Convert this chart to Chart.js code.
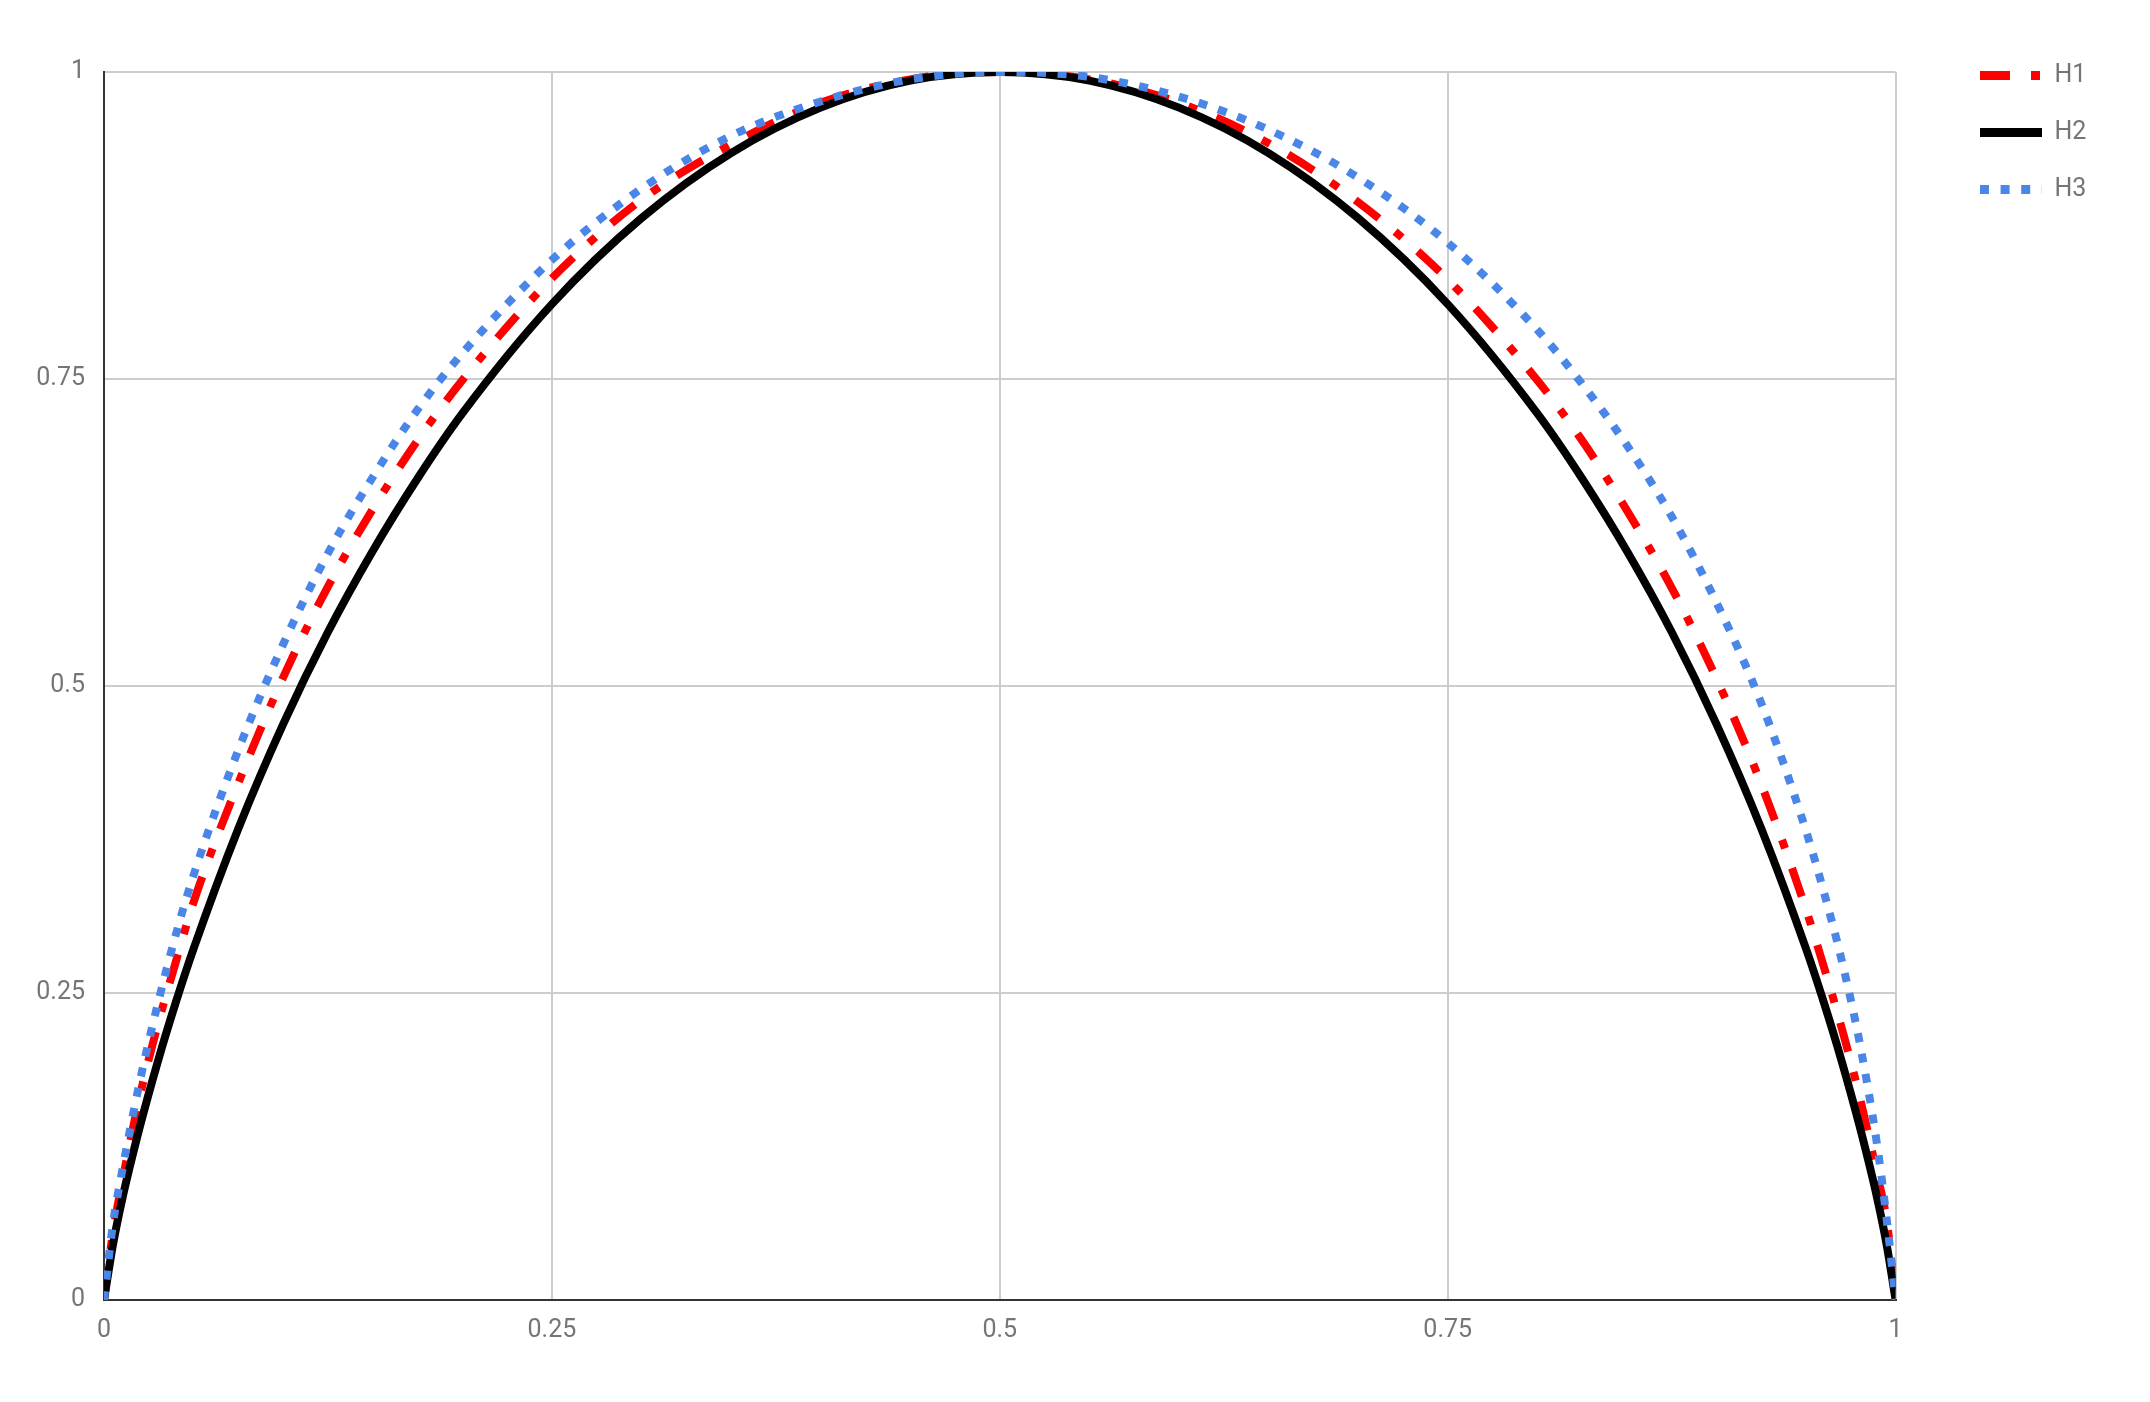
<!DOCTYPE html>
<html>
<head>
<meta charset="utf-8">
<script src="https://cdn.jsdelivr.net/npm/chart.js@4.4.1/dist/chart.umd.min.js"></script>
<style>
  html, body { margin: 0; padding: 0; background: #ffffff; }
  #wrap { width: 2150px; height: 1402px; position: relative; }
</style>
</head>
<body>
<div id="wrap"><canvas id="c" width="2150" height="1402"></canvas></div>
<script>
// ---- data ----
const xValues = [0, 0.005, 0.01, 0.02, 0.03, 0.04, 0.05, 0.075, 0.1, 0.125, 0.15, 0.175, 0.2, 0.25, 0.3, 0.35, 0.4, 0.45, 0.5,
                 0.55, 0.6, 0.65, 0.7, 0.75, 0.8, 0.825, 0.85, 0.875, 0.9, 0.925, 0.95, 0.96, 0.97, 0.98, 0.99, 0.995, 1];
const h1Values = [0, 0.055, 0.095, 0.166, 0.224, 0.275, 0.324, 0.421, 0.507, 0.581, 0.644, 0.700, 0.749, 0.832, 0.896, 0.941, 0.975, 0.994, 1,
                  0.994, 0.975, 0.942, 0.894, 0.831, 0.749, 0.700, 0.643, 0.580, 0.506, 0.420, 0.318, 0.271, 0.221, 0.165, 0.100, 0.065, 0];
const h2Values = [0, 0.045, 0.081, 0.141, 0.194, 0.242, 0.286, 0.384, 0.469, 0.544, 0.610, 0.669, 0.722, 0.811, 0.881, 0.934, 0.971, 0.993, 1,
                  0.993, 0.971, 0.934, 0.881, 0.811, 0.722, 0.669, 0.610, 0.544, 0.469, 0.384, 0.286, 0.242, 0.194, 0.141, 0.081, 0.045, 0];
const h3Values = [0, 0.062, 0.104, 0.178, 0.241, 0.297, 0.346, 0.448, 0.534, 0.608, 0.670, 0.725, 0.771, 0.847, 0.905, 0.948, 0.976, 0.994, 1,
                  0.996, 0.980, 0.953, 0.914, 0.861, 0.790, 0.746, 0.696, 0.638, 0.568, 0.486, 0.382, 0.332, 0.276, 0.209, 0.123, 0.066, 0];
const seriesNames = ['H1', 'H2', 'H3'];
const xTickValues = [0, 0.25, 0.5, 0.75, 1];
const xTickLabels = ['0', '0.25', '0.5', '0.75', '1'];
const yTickValues = [0, 0.25, 0.5, 0.75, 1];
const yTickLabels = ['0', '0.25', '0.5', '0.75', '1'];

const toPoints = ys => xValues.map((x, i) => ({ x: x, y: ys[i] }));

Chart.defaults.font.family = 'Roboto, "Noto Sans", sans-serif';
Chart.defaults.font.size = 25;
Chart.defaults.color = '#757575';

const legendPlace = {
  id: 'legendPlace',
  afterLayout(chart) {
    const lg = chart.legend;
    if (!lg) return;
    const pad = lg.options.labels.padding;
    const dx = 1980 - pad - lg.left;
    const dy = 72 - 9 - pad - lg.top;
    lg.left += dx; lg.right += dx;
    lg.top += dy; lg.bottom += dy;
  }
};

new Chart(document.getElementById('c'), {
  type: 'scatter',
  data: {
    datasets: [
      { label: seriesNames[0], data: toPoints(h1Values), showLine: true, borderColor: '#ff0000', backgroundColor: '#ff0000',
        borderWidth: 8, borderDash: [30, 21, 9, 21], borderCapStyle: 'butt', pointRadius: 0, pointHoverRadius: 0,
        cubicInterpolationMode: 'monotone', order: 3 },
      { label: seriesNames[1], data: toPoints(h2Values), showLine: true, borderColor: '#000000', backgroundColor: '#000000',
        borderWidth: 8, borderCapStyle: 'butt', pointRadius: 0, pointHoverRadius: 0,
        cubicInterpolationMode: 'monotone', order: 2 },
      { label: seriesNames[2], data: toPoints(h3Values), showLine: true, borderColor: '#4a86e8', backgroundColor: '#4a86e8',
        borderWidth: 8, borderDash: [9, 11.6], borderCapStyle: 'butt', pointRadius: 0, pointHoverRadius: 0,
        cubicInterpolationMode: 'monotone', order: 1 }
    ]
  },
  options: {
    responsive: false,
    animation: false,
    devicePixelRatio: 1,
    layout: { padding: { left: 0, top: 72, right: 106, bottom: 40 } },
    plugins: {
      tooltip: { enabled: false },
      title: { display: false },
      legend: {
        display: true,
        position: 'right',
        align: 'start',
        labels: {
          usePointStyle: true,
          pointStyle: 'line',
          pointStyleWidth: 62,
          boxHeight: 9,
          padding: 32,
          color: '#757575',
          font: { size: 25 },
          generateLabels: (chart) => chart.data.datasets.map((ds, i) => ({
            text: ds.label,
            fillStyle: ds.borderColor,
            strokeStyle: ds.borderColor,
            lineWidth: 9,
            lineDash: ds.borderDash || [],
            lineCap: 'butt',
            pointStyle: 'line',
            hidden: false,
            fontColor: '#757575',
            datasetIndex: i
          }))
        }
      }
    },
    scales: {
      x: {
        type: 'linear',
        min: 0, max: 1,
        afterBuildTicks: s => { s.ticks = xTickValues.map(v => ({ value: v })); },
        ticks: {
          padding: 16,
          maxRotation: 0,
          autoSkip: false,
          callback: (v) => { const i = xTickValues.indexOf(v); return i >= 0 ? xTickLabels[i] : ''; }
        },
        grid: { color: '#cccccc', lineWidth: 2, drawTicks: false },
        border: { display: true, color: '#333333', width: 2 }
      },
      y: {
        type: 'linear',
        min: 0, max: 1,
        afterBuildTicks: s => { s.ticks = yTickValues.map(v => ({ value: v })); },
        afterFit: s => { s.width = 104; },
        ticks: {
          padding: 19,
          autoSkip: false,
          callback: (v) => { const i = yTickValues.indexOf(v); return i >= 0 ? yTickLabels[i] : ''; }
        },
        grid: { color: '#cccccc', lineWidth: 2, drawTicks: false },
        border: { display: true, color: '#333333', width: 2 }
      }
    }
  },
  plugins: [legendPlace]
});
</script>
</body>
</html>
